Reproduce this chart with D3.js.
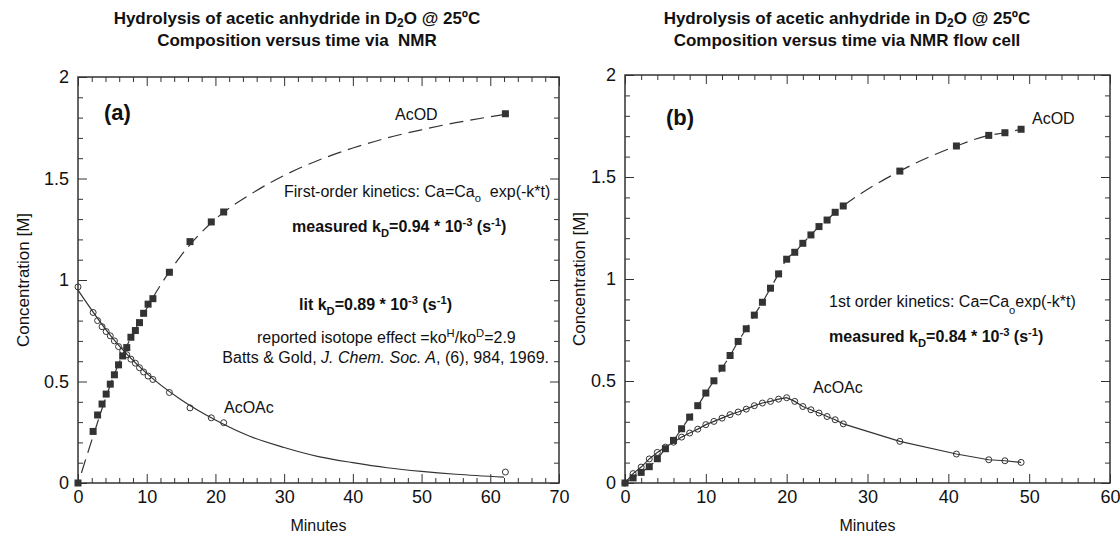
<!DOCTYPE html>
<html>
<head>
<meta charset="utf-8">
<script src="https://cdn.jsdelivr.net/npm/d3@7"></script>
<style>
  body { margin: 0; background: #fff; }
  text { font-family: "Liberation Sans", Arial, Helvetica, sans-serif; fill: #111; white-space: pre; }
</style>
</head>
<body>
<svg id="chart" width="1120" height="538"></svg>
<script>
// ---- panel (a): NMR tube ----
const timeA = [0, 2.2, 2.85, 3.5, 4.1, 4.7, 5.3, 5.9, 6.5, 7.1, 7.7, 8.35, 8.95, 9.55, 10.2, 10.9, 13.3, 16.3, 19.4, 21.2, 62.2];
const acoacA = [0.966, 0.84, 0.80, 0.77, 0.746, 0.725, 0.70, 0.672, 0.651, 0.632, 0.61, 0.59, 0.568, 0.547, 0.527, 0.51, 0.446, 0.37, 0.321, 0.297, 0.054];
const acodA = [0, 0.254, 0.335, 0.389, 0.438, 0.487, 0.533, 0.582, 0.626, 0.667, 0.718, 0.751, 0.79, 0.836, 0.881, 0.908, 1.038, 1.189, 1.286, 1.335, 1.819];
// fitted curves
const acoacFitT = [0, 5, 10, 15, 20, 25, 30, 35, 40, 45, 50, 55, 62];
const acoacFitC = [0.95, 0.715, 0.54, 0.41, 0.31, 0.23, 0.175, 0.13, 0.10, 0.075, 0.057, 0.043, 0.029];
const acodFitT = [0.5, 2, 5, 10, 15, 20, 25, 30, 35, 40, 45, 50, 55, 62];
const acodFitC = [0.05, 0.21, 0.51, 0.86, 1.12, 1.30, 1.42, 1.515, 1.59, 1.65, 1.70, 1.74, 1.775, 1.815];

// ---- panel (b): NMR flow cell ----
const timeB = [0, 1, 2, 3, 4, 5, 6, 7, 8, 9, 10, 11, 12, 13, 14, 15, 16, 17, 18, 19, 20, 21, 22, 23, 24, 25, 26, 27, 34, 41, 45, 47, 49];
const acodB = [0, 0.025, 0.052, 0.08, 0.119, 0.168, 0.209, 0.266, 0.323, 0.379, 0.441, 0.501, 0.563, 0.625, 0.694, 0.756, 0.823, 0.886, 0.955, 1.025, 1.097, 1.131, 1.175, 1.216, 1.257, 1.289, 1.327, 1.358, 1.529, 1.652, 1.704, 1.717, 1.734];
const acoacB = [0, 0.046, 0.078, 0.118, 0.15, 0.176, 0.2, 0.225, 0.245, 0.264, 0.286, 0.302, 0.318, 0.335, 0.348, 0.362, 0.379, 0.392, 0.4, 0.411, 0.418, 0.4, 0.375, 0.359, 0.343, 0.326, 0.31, 0.29, 0.204, 0.142, 0.114, 0.109, 0.101];

const yTicks = [0, 0.5, 1, 1.5, 2];
const xTicksA = [0, 10, 20, 30, 40, 50, 60, 70];
const xTicksB = [0, 10, 20, 30, 40, 50, 60];

const ink = '#333';
const svg = d3.select('#chart');

// text with sub/superscript and italic pieces
function rich(g, x, y, parts, { size = 16, weight = 'normal', anchor = 'start' } = {}) {
  const t = g.append('text')
    .attr('x', x).attr('y', y)
    .attr('font-size', size)
    .attr('font-weight', weight)
    .attr('text-anchor', anchor);
  let cur = 0;
  for (const p of parts) {
    const s = typeof p === 'string' ? { t: p } : p;
    const shift = s.sub ? size * (s.drop || 0.3) : s.sup ? -size * 0.4 : 0;
    const ts = t.append('tspan').attr('dy', shift - cur).text(s.t);
    cur = shift;
    if (s.sub || s.sup) ts.attr('font-size', size * 0.7);
    if (s.it) ts.attr('font-style', 'italic');
  }
  return t;
}

function panel(cfg) {
  const x = d3.scaleLinear([0, cfg.xmax], [cfg.left, cfg.right]);
  const y = d3.scaleLinear([0, 2], [cfg.bottom, cfg.top]);
  const g = svg.append('g');

  const minorX = d3.range(0, cfg.xmax + 0.01, 2).filter((d) => d % 10 !== 0);
  const minorY = d3.range(0, 2.001, 0.1).map((d) => +d.toFixed(1)).filter((d) => Math.abs(d * 2 - Math.round(d * 2)) > 1e-6);

  const style = (sel) => {
    sel.select('.domain').remove();
    sel.selectAll('.tick line').attr('stroke', ink).attr('stroke-width', 1);
    sel.selectAll('.tick text').attr('font-size', 18).attr('fill', '#111')
      .attr('font-family', '"Liberation Sans", Arial, sans-serif');
  };

  // bottom
  g.append('g').attr('transform', `translate(0,${cfg.bottom})`)
    .call(d3.axisBottom(x).tickValues(cfg.xTicks).tickSize(-9).tickPadding(7).tickFormat(d3.format('d'))).call(style);
  g.append('g').attr('transform', `translate(0,${cfg.bottom})`)
    .call(d3.axisBottom(x).tickValues(minorX).tickSize(-5).tickFormat('')).call(style);
  // top
  g.append('g').attr('transform', `translate(0,${cfg.top})`)
    .call(d3.axisTop(x).tickValues(cfg.xTicks).tickSize(-9).tickFormat('')).call(style);
  g.append('g').attr('transform', `translate(0,${cfg.top})`)
    .call(d3.axisTop(x).tickValues(minorX).tickSize(-5).tickFormat('')).call(style);
  // left
  g.append('g').attr('transform', `translate(${cfg.left},0)`)
    .call(d3.axisLeft(y).tickValues(yTicks).tickSize(-9).tickPadding(9).tickFormat(d3.format('~g'))).call(style);
  g.append('g').attr('transform', `translate(${cfg.left},0)`)
    .call(d3.axisLeft(y).tickValues(minorY).tickSize(-5).tickFormat('')).call(style);
  // right
  g.append('g').attr('transform', `translate(${cfg.right},0)`)
    .call(d3.axisRight(y).tickValues(yTicks).tickSize(-9).tickFormat('')).call(style);
  g.append('g').attr('transform', `translate(${cfg.right},0)`)
    .call(d3.axisRight(y).tickValues(minorY).tickSize(-5).tickFormat('')).call(style);

  g.append('rect')
    .attr('x', cfg.left).attr('y', cfg.top)
    .attr('width', cfg.right - cfg.left).attr('height', cfg.bottom - cfg.top)
    .attr('fill', 'none').attr('stroke', ink).attr('stroke-width', 1.5);

  // axis titles
  g.append('text')
    .attr('x', (cfg.left + cfg.right) / 2).attr('y', 531)
    .attr('text-anchor', 'middle').attr('font-size', 16).text('Minutes');
  g.append('text')
    .attr('transform', `translate(${cfg.yLabelX},${(cfg.top + cfg.bottom) / 2}) rotate(-90)`)
    .attr('text-anchor', 'middle').attr('font-size', 17).text('Concentration [M]');

  // titles
  rich(g, cfg.titleX, 24, ['Hydrolysis of acetic anhydride in D', { t: '2', sub: true, drop: 0.16 }, 'O @ 25ºC'],
    { size: 17, weight: 'bold', anchor: 'middle' });
  g.append('text')
    .attr('x', cfg.titleX).attr('y', 46)
    .attr('text-anchor', 'middle').attr('font-size', 17).attr('font-weight', 'bold')
    .text(cfg.subtitle);

  return { g, x, y };
}

function curve(g, x, y, T, C, dashed, curveType) {
  g.append('path')
    .datum(d3.zip(T, C))
    .attr('fill', 'none').attr('stroke', ink).attr('stroke-width', 1.2)
    .attr('stroke-dasharray', dashed ? '14,7' : null)
    .attr('d', d3.line().x((d) => x(d[0])).y((d) => y(d[1])).curve(curveType));
}

function squares(g, x, y, T, C) {
  g.append('g').selectAll('rect').data(d3.zip(T, C)).join('rect')
    .attr('x', (d) => x(d[0]) - 3.5).attr('y', (d) => y(d[1]) - 3.5)
    .attr('width', 7).attr('height', 7).attr('fill', ink);
}

function circles(g, x, y, T, C) {
  g.append('g').selectAll('circle').data(d3.zip(T, C)).join('circle')
    .attr('cx', (d) => x(d[0])).attr('cy', (d) => y(d[1])).attr('r', 3)
    .attr('fill', 'none').attr('stroke', ink).attr('stroke-width', 1);
}

// ----- (a) -----
const A = panel({
  xmax: 70, left: 78, right: 559, top: 77, bottom: 483, yLabelX: 29,
  xTicks: xTicksA, titleX: 297, subtitle: 'Composition versus time via  NMR'
});
curve(A.g, A.x, A.y, acodFitT, acodFitC, true, d3.curveMonotoneX);
curve(A.g, A.x, A.y, acoacFitT, acoacFitC, false, d3.curveMonotoneX);
squares(A.g, A.x, A.y, timeA, acodA);
circles(A.g, A.x, A.y, timeA, acoacA);

A.g.append('text').attr('x', 104).attr('y', 120).attr('font-size', 22).attr('font-weight', 'bold').text('(a)');
A.g.append('text').attr('x', 395).attr('y', 120).attr('font-size', 16).text('AcOD');
A.g.append('text').attr('x', 224).attr('y', 413).attr('font-size', 16).text('AcOAc');
rich(A.g, 284, 197, ['First-order kinetics: Ca=Ca', { t: 'o', sub: true }, '  exp(-k*t)'], { size: 16 });
rich(A.g, 292, 232, ['measured k', { t: 'D', sub: true }, '=0.94 * 10', { t: '-3', sup: true }, ' (s', { t: '-1', sup: true }, ')'],
  { size: 16, weight: 'bold' });
rich(A.g, 299, 310, ['lit k', { t: 'D', sub: true }, '=0.89 * 10', { t: '-3', sup: true }, ' (s', { t: '-1', sup: true }, ')'],
  { size: 16, weight: 'bold' });
rich(A.g, 257, 343, ['reported isotope effect =ko', { t: 'H', sup: true }, '/ko', { t: 'D', sup: true }, '=2.9'], { size: 16 });
rich(A.g, 549, 363, ['Batts & Gold, ', { t: 'J. Chem. Soc. A', it: true }, ', (6), 984, 1969.'], { size: 16, anchor: 'end' });

// ----- (b) -----
const B = panel({
  xmax: 60, left: 625, right: 1110, top: 75, bottom: 483, yLabelX: 585,
  xTicks: xTicksB, titleX: 847, subtitle: 'Composition versus time via NMR flow cell'
});
curve(B.g, B.x, B.y, timeB, acodB, true, d3.curveMonotoneX);
curve(B.g, B.x, B.y, timeB, acoacB, false, d3.curveLinear);
squares(B.g, B.x, B.y, timeB, acodB);
circles(B.g, B.x, B.y, timeB, acoacB);

B.g.append('text').attr('x', 666).attr('y', 125).attr('font-size', 22).attr('font-weight', 'bold').text('(b)');
B.g.append('text').attr('x', 1032).attr('y', 124).attr('font-size', 16).text('AcOD');
B.g.append('text').attr('x', 813).attr('y', 393).attr('font-size', 16).text('AcOAc');
rich(B.g, 829, 307, ['1st order kinetics: Ca=Ca', { t: 'o', sub: true, drop: 0.45 }, 'exp(-k*t)'], { size: 16 });
rich(B.g, 829, 342, ['measured k', { t: 'D', sub: true }, '=0.84 * 10', { t: '-3', sup: true }, ' (s', { t: '-1', sup: true }, ')'],
  { size: 16, weight: 'bold' });
</script>
</body>
</html>
